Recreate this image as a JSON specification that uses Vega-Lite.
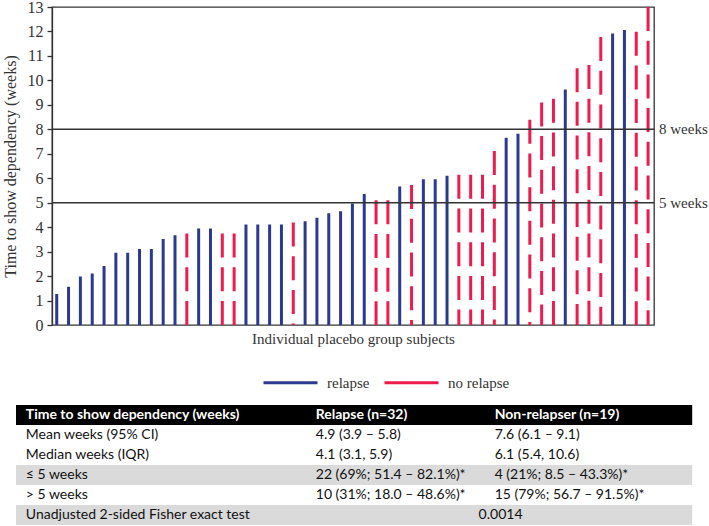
{
  "$schema": "https://vega.github.io/schema/vega-lite/v6.json",
  "padding": {"left": 1, "top": -2, "right": 0, "bottom": 0},
  "spacing": 13,
  "background": "white",
  "config": {
    "style": {"guide-label": {"font": "Liberation Serif", "fontSize": 16, "fill": "#333"}},
    "axis": {"labelFont": "Liberation Serif", "titleFont": "Liberation Serif", "labelColor": "#333", "titleColor": "#333"},
    "axisY": {"labelFont": "Liberation Serif", "labelFontSize": 16, "titleFontSize": 16, "titleFontWeight": "normal", "labelOverlap": false, "tickSize": 5, "labelPadding": 4, "titlePadding": 9, "domainColor": "#333", "tickColor": "#333", "domainWidth": 1.3, "tickWidth": 1.3, "grid": false},
    "axisX": {"titleFontSize": 15, "titleFontWeight": "normal", "grid": false}
  },
  "datasets": {
    "subjects": [
      {"subject": 1, "weeks": 1.27, "group": "relapse"},
      {"subject": 2, "weeks": 1.56, "group": "relapse"},
      {"subject": 3, "weeks": 1.98, "group": "relapse"},
      {"subject": 4, "weeks": 2.11, "group": "relapse"},
      {"subject": 5, "weeks": 2.41, "group": "relapse"},
      {"subject": 6, "weeks": 2.95, "group": "relapse"},
      {"subject": 7, "weeks": 2.95, "group": "relapse"},
      {"subject": 8, "weeks": 3.11, "group": "relapse"},
      {"subject": 9, "weeks": 3.11, "group": "relapse"},
      {"subject": 10, "weeks": 3.52, "group": "relapse"},
      {"subject": 11, "weeks": 3.67, "group": "relapse"},
      {"subject": 12, "weeks": 3.74, "group": "no relapse"},
      {"subject": 13, "weeks": 3.94, "group": "relapse"},
      {"subject": 14, "weeks": 3.94, "group": "relapse"},
      {"subject": 15, "weeks": 3.74, "group": "no relapse"},
      {"subject": 16, "weeks": 3.74, "group": "no relapse"},
      {"subject": 17, "weeks": 4.11, "group": "relapse"},
      {"subject": 18, "weeks": 4.11, "group": "relapse"},
      {"subject": 19, "weeks": 4.11, "group": "relapse"},
      {"subject": 20, "weeks": 4.11, "group": "relapse"},
      {"subject": 21, "weeks": 4.19, "group": "no relapse"},
      {"subject": 22, "weeks": 4.24, "group": "relapse"},
      {"subject": 23, "weeks": 4.38, "group": "relapse"},
      {"subject": 24, "weeks": 4.57, "group": "relapse"},
      {"subject": 25, "weeks": 4.65, "group": "relapse"},
      {"subject": 26, "weeks": 4.97, "group": "relapse"},
      {"subject": 27, "weeks": 5.36, "group": "relapse"},
      {"subject": 28, "weeks": 5.1, "group": "no relapse"},
      {"subject": 29, "weeks": 5.1, "group": "no relapse"},
      {"subject": 30, "weeks": 5.66, "group": "relapse"},
      {"subject": 31, "weeks": 5.72, "group": "no relapse"},
      {"subject": 32, "weeks": 5.96, "group": "relapse"},
      {"subject": 33, "weeks": 5.96, "group": "relapse"},
      {"subject": 34, "weeks": 6.1, "group": "relapse"},
      {"subject": 35, "weeks": 6.14, "group": "no relapse"},
      {"subject": 36, "weeks": 6.14, "group": "no relapse"},
      {"subject": 37, "weeks": 6.14, "group": "no relapse"},
      {"subject": 38, "weeks": 7.11, "group": "no relapse"},
      {"subject": 39, "weeks": 7.65, "group": "relapse"},
      {"subject": 40, "weeks": 7.82, "group": "relapse"},
      {"subject": 41, "weeks": 8.39, "group": "no relapse"},
      {"subject": 42, "weeks": 9.1, "group": "no relapse"},
      {"subject": 43, "weeks": 9.25, "group": "no relapse"},
      {"subject": 44, "weeks": 9.63, "group": "relapse"},
      {"subject": 45, "weeks": 10.5, "group": "no relapse"},
      {"subject": 46, "weeks": 10.63, "group": "no relapse"},
      {"subject": 47, "weeks": 11.77, "group": "no relapse"},
      {"subject": 48, "weeks": 11.92, "group": "relapse"},
      {"subject": 49, "weeks": 12.06, "group": "relapse"},
      {"subject": 50, "weeks": 11.99, "group": "no relapse"},
      {"subject": 51, "weeks": 13, "group": "no relapse"}
    ],
    "refs": [
      {"weeks": 5, "label": "5 weeks"},
      {"weeks": 8, "label": "8 weeks"}
    ],
    "table": [
      {"row": 0, "shade": "header", "c1": "Time to show dependency (weeks)", "c2": "Relapse (n=32)", "c3": "Non-relapser (n=19)", "span": ""},
      {"row": 1, "shade": "white", "c1": "Mean weeks (95% CI)", "c2": "4.9 (3.9 – 5.8)", "c3": "7.6 (6.1 – 9.1)", "span": ""},
      {"row": 2, "shade": "white", "c1": "Median weeks (IQR)", "c2": "4.1 (3.1, 5.9)", "c3": "6.1 (5.4, 10.6)", "span": ""},
      {"row": 3, "shade": "gray", "c1": "≤ 5 weeks", "c2": "22 (69%; 51.4 – 82.1%)*", "c3": "4 (21%; 8.5 – 43.3%)*", "span": ""},
      {"row": 4, "shade": "white", "c1": "> 5 weeks", "c2": "10 (31%; 18.0 – 48.6%)*", "c3": "15 (79%; 56.7 – 91.5%)*", "span": ""},
      {"row": 5, "shade": "gray", "c1": "Unadjusted 2-sided Fisher exact test", "c2": "", "c3": "", "span": "0.0014"}
    ]
  },
  "resolve": {
    "scale": {"color": "independent"},
    "legend": {"color": "independent"}
  },
  "vconcat": [
    {
      "width": 602,
      "height": 318,
      "view": {"stroke": "#333", "strokeWidth": 1.3},
      "layer": [
        {
          "data": {"name": "subjects"},
          "mark": {"type": "rule", "strokeWidth": 3},
          "encoding": {
            "x": {
              "field": "subject", "type": "quantitative",
              "scale": {"domain": [0.6, 51.5], "nice": false, "zero": false},
              "axis": {"labels": false, "ticks": false, "domain": false, "grid": false,
                       "title": "Individual placebo group subjects", "titlePadding": 6}
            },
            "y": {
              "field": "weeks", "type": "quantitative",
              "title": "Time to show dependency (weeks)",
              "scale": {"domain": [0, 13], "nice": false},
              "axis": {"values": [0,1,2,3,4,5,6,7,8,9,10,11,12,13], "labelOverlap": false, "labelFontSize": 16, "labelFont": "Liberation Serif"}
            },
            "y2": {"datum": 0},
            "color": {
              "field": "group", "type": "nominal",
              "scale": {"domain": ["relapse", "no relapse"], "range": ["#2b3990", "#ee1c4e"]},
              "legend": {
                "orient": "none", "legendX": 210, "legendY": 347, "direction": "horizontal", "title": null,
                "symbolType": "stroke", "symbolSize": 2916, "symbolStrokeWidth": 3,
                "labelFont": "Liberation Serif", "labelFontSize": 15, "labelColor": "#333",
                "labelOffset": 8, "columnPadding": 8
              }
            },
            "strokeDash": {
              "field": "group", "type": "nominal",
              "scale": {"domain": ["relapse", "no relapse"], "range": [[1, 0], [24, 9.7]]},
              "legend": null
            }
          }
        },
        {
          "data": {"name": "refs"},
          "mark": {"type": "rule", "color": "#333", "strokeWidth": 1.5},
          "encoding": {
            "y": {"field": "weeks", "type": "quantitative", "title": "Time to show dependency (weeks)",
                  "axis": {"values": [0,1,2,3,4,5,6,7,8,9,10,11,12,13], "labelOverlap": false, "labelFontSize": 16, "labelFont": "Liberation Serif"}}
          }
        },
        {
          "data": {"name": "refs"},
          "mark": {"type": "text", "align": "left", "baseline": "middle", "dx": 5, "font": "Liberation Serif", "fontSize": 15, "color": "#333"},
          "encoding": {
            "x": {"datum": 51.5, "type": "quantitative"},
            "y": {"field": "weeks", "type": "quantitative", "title": "Time to show dependency (weeks)",
                  "axis": {"values": [0,1,2,3,4,5,6,7,8,9,10,11,12,13], "labelOverlap": false, "labelFontSize": 16, "labelFont": "Liberation Serif"}},
            "text": {"field": "label"}
          }
        }
      ]
    },
    {
      "width": 602,
      "height": 120,
      "view": {"stroke": null},
      "data": {"name": "table"},
      "layer": [
        {
          "mark": {"type": "rect"},
          "encoding": {
            "y": {"field": "row", "type": "ordinal", "axis": null, "scale": {"paddingInner": 0, "paddingOuter": 0}},
            "x": {"datum": 0, "type": "quantitative", "axis": null, "scale": {"domain": [0, 688], "range": [-36, 652]}},
            "x2": {"datum": 688},
            "color": {"field": "shade", "type": "nominal", "legend": null,
                      "scale": {"domain": ["header", "white", "gray"], "range": ["#000000", "#ffffff", "#dadada"]}}
          }
        },
        {
          "mark": {"type": "rule", "color": "#000", "strokeWidth": 2, "yOffset": 20},
          "encoding": {
            "y": {"datum": 5, "type": "ordinal", "axis": null},
            "x": {"datum": 0, "type": "quantitative"},
            "x2": {"datum": 688}
          }
        },
        {
          "transform": [{"filter": "datum.row == 0"}],
          "mark": {"type": "text", "align": "left", "baseline": "middle", "font": "Lato", "fontSize": 14, "fontWeight": "bold", "color": "#ffffff"},
          "encoding": {"y": {"field": "row", "type": "ordinal", "axis": null}, "x": {"datum": 10, "type": "quantitative"}, "text": {"field": "c1"}}
        },
        {
          "transform": [{"filter": "datum.row == 0"}],
          "mark": {"type": "text", "align": "left", "baseline": "middle", "font": "Lato", "fontSize": 14, "fontWeight": "bold", "color": "#ffffff"},
          "encoding": {"y": {"field": "row", "type": "ordinal", "axis": null}, "x": {"datum": 305, "type": "quantitative"}, "text": {"field": "c2"}}
        },
        {
          "transform": [{"filter": "datum.row == 0"}],
          "mark": {"type": "text", "align": "left", "baseline": "middle", "font": "Lato", "fontSize": 14, "fontWeight": "bold", "color": "#ffffff"},
          "encoding": {"y": {"field": "row", "type": "ordinal", "axis": null}, "x": {"datum": 487, "type": "quantitative"}, "text": {"field": "c3"}}
        },
        {
          "transform": [{"filter": "datum.row > 0"}],
          "mark": {"type": "text", "align": "left", "baseline": "middle", "font": "Lato", "fontSize": 14, "color": "#111"},
          "encoding": {"y": {"field": "row", "type": "ordinal", "axis": null}, "x": {"datum": 10, "type": "quantitative"}, "text": {"field": "c1"}}
        },
        {
          "transform": [{"filter": "datum.row > 0"}],
          "mark": {"type": "text", "align": "left", "baseline": "middle", "font": "Lato", "fontSize": 14, "color": "#111"},
          "encoding": {"y": {"field": "row", "type": "ordinal", "axis": null}, "x": {"datum": 305, "type": "quantitative"}, "text": {"field": "c2"}}
        },
        {
          "transform": [{"filter": "datum.row > 0"}],
          "mark": {"type": "text", "align": "left", "baseline": "middle", "font": "Lato", "fontSize": 14, "color": "#111"},
          "encoding": {"y": {"field": "row", "type": "ordinal", "axis": null}, "x": {"datum": 487, "type": "quantitative"}, "text": {"field": "c3"}}
        },
        {
          "transform": [{"filter": "datum.row > 0"}],
          "mark": {"type": "text", "align": "center", "baseline": "middle", "font": "Lato", "fontSize": 14, "color": "#111"},
          "encoding": {"y": {"field": "row", "type": "ordinal", "axis": null}, "x": {"datum": 493, "type": "quantitative"}, "text": {"field": "span"}}
        }
      ]
    }
  ]
}
